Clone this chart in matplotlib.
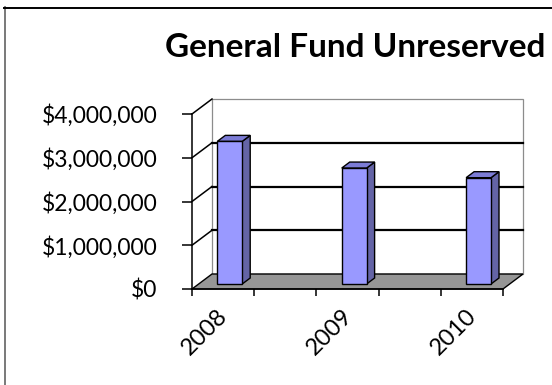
import numpy as np
import matplotlib
matplotlib.use("Agg")
import matplotlib.pyplot as plt
from matplotlib.patches import Polygon
from matplotlib.lines import Line2D
from matplotlib.ticker import FuncFormatter

plt.rcParams['font.family'] = ['Lato', 'DejaVu Sans']

years = ['2008', '2009', '2010']
fund = [3260000, 2650000, 2430000]
y_ticks = [0, 1000000, 2000000, 3000000, 4000000]

W, H = 552, 385
fig = plt.figure(figsize=(W / 100, H / 100), dpi=100)

# front plane of the 3d box, in pixels
x0, x1 = 192, 503
ytop, ybot = 114, 289
ax = fig.add_axes([x0 / W, (H - ybot) / H, (x1 - x0) / W, (ybot - ytop) / H])
ax.set_xlim(0, 5)
ax.set_ylim(0, 4000000)
ax.patch.set_visible(False)

# depth of the box in pixels -> data units
px_x = (x1 - x0) / 5
px_y = (ybot - ytop) / 4000000
DX = 20 / px_x
DY = 15 / px_y

def poly(pts, **kw):
    p = Polygon(pts, closed=True, clip_on=False, **kw)
    ax.add_patch(p)
    return p

# back wall
poly([(DX, DY), (5 + DX, DY), (5 + DX, 4000000 + DY), (DX, 4000000 + DY)],
     facecolor='white', edgecolor='#8c8c8c', lw=0.9, zorder=1)
# gridlines on back wall + side wall diagonals
for v in y_ticks[1:]:
    if v < 4000000:
        ax.add_line(Line2D([DX, 5 + DX], [v + DY, v + DY], color='black', lw=1.6,
                           clip_on=False, zorder=2))
    ax.add_line(Line2D([0, DX], [v, v + DY], color='black', lw=1.1, clip_on=False, zorder=2))

# floor
poly([(0, 0), (5, 0), (5 + DX, DY), (DX, DY)],
     facecolor='#969696', edgecolor='black', lw=1.0, zorder=3)

# bars
pos = np.arange(len(years)) * 2 + 0.5
bw = 0.4
t0, t1 = 1 / 3, 1 / 3 + 0.4
for xc, v in zip(pos, fund):
    xl, xr = xc - bw / 2, xc + bw / 2
    poly([(xr + t0 * DX, t0 * DY), (xr + t1 * DX, t1 * DY),
          (xr + t1 * DX, v + t1 * DY), (xr + t0 * DX, v + t0 * DY)],
         facecolor='#6464a6', edgecolor='black', lw=1.0, zorder=4)
    poly([(xl + t0 * DX, v + t0 * DY), (xr + t0 * DX, v + t0 * DY),
          (xr + t1 * DX, v + t1 * DY), (xl + t1 * DX, v + t1 * DY)],
         facecolor='#7c7cd6', edgecolor='black', lw=1.0, zorder=4)
    poly([(xl + t0 * DX, t0 * DY), (xr + t0 * DX, t0 * DY),
          (xr + t0 * DX, v + t0 * DY), (xl + t0 * DX, v + t0 * DY)],
         facecolor='#9999ff', edgecolor='black', lw=1.0, zorder=5)

for s in ['top', 'right']:
    ax.spines[s].set_visible(False)
for s in ['left', 'bottom']:
    ax.spines[s].set_linewidth(1.1)
    ax.spines[s].set_zorder(6)

ax.set_yticks(y_ticks)
ax.yaxis.set_major_formatter(FuncFormatter(lambda v, p: '${:,.0f}'.format(v)))
ax.tick_params(axis='y', length=7, width=1.1, pad=18, labelsize=16.5, colors='black')

ax.set_xticks(range(6))
ax.set_xticklabels([])
# year labels sit a little left of the bar centres
ax.set_xticks(pos - 0.1, labels=years, minor=True)
ax.tick_params(axis='x', which='major', length=5, width=1.1)
ax.tick_params(axis='x', which='minor', length=0, pad=12, labelsize=17)
for lab in ax.get_xticklabels(minor=True):
    lab.set_rotation(45)
    lab.set_ha('right')
    lab.set_rotation_mode('anchor')

fig.text(165 / W, (H - 57) / H, 'General Fund Unreserved', fontsize=24,
         fontweight='bold', ha='left', va='baseline')

# chart border
fig.add_artist(Line2D([4.5 / W, 4.5 / W], [0, 1 - 7 / H], color='#6e6e6e', lw=1.3,
                      transform=fig.transFigure))
fig.add_artist(Line2D([4 / W, 1], [1 - 7.5 / H, 1 - 7.5 / H], color='black', lw=1.4,
                      transform=fig.transFigure))

fig.savefig('out.png', dpi=100)
